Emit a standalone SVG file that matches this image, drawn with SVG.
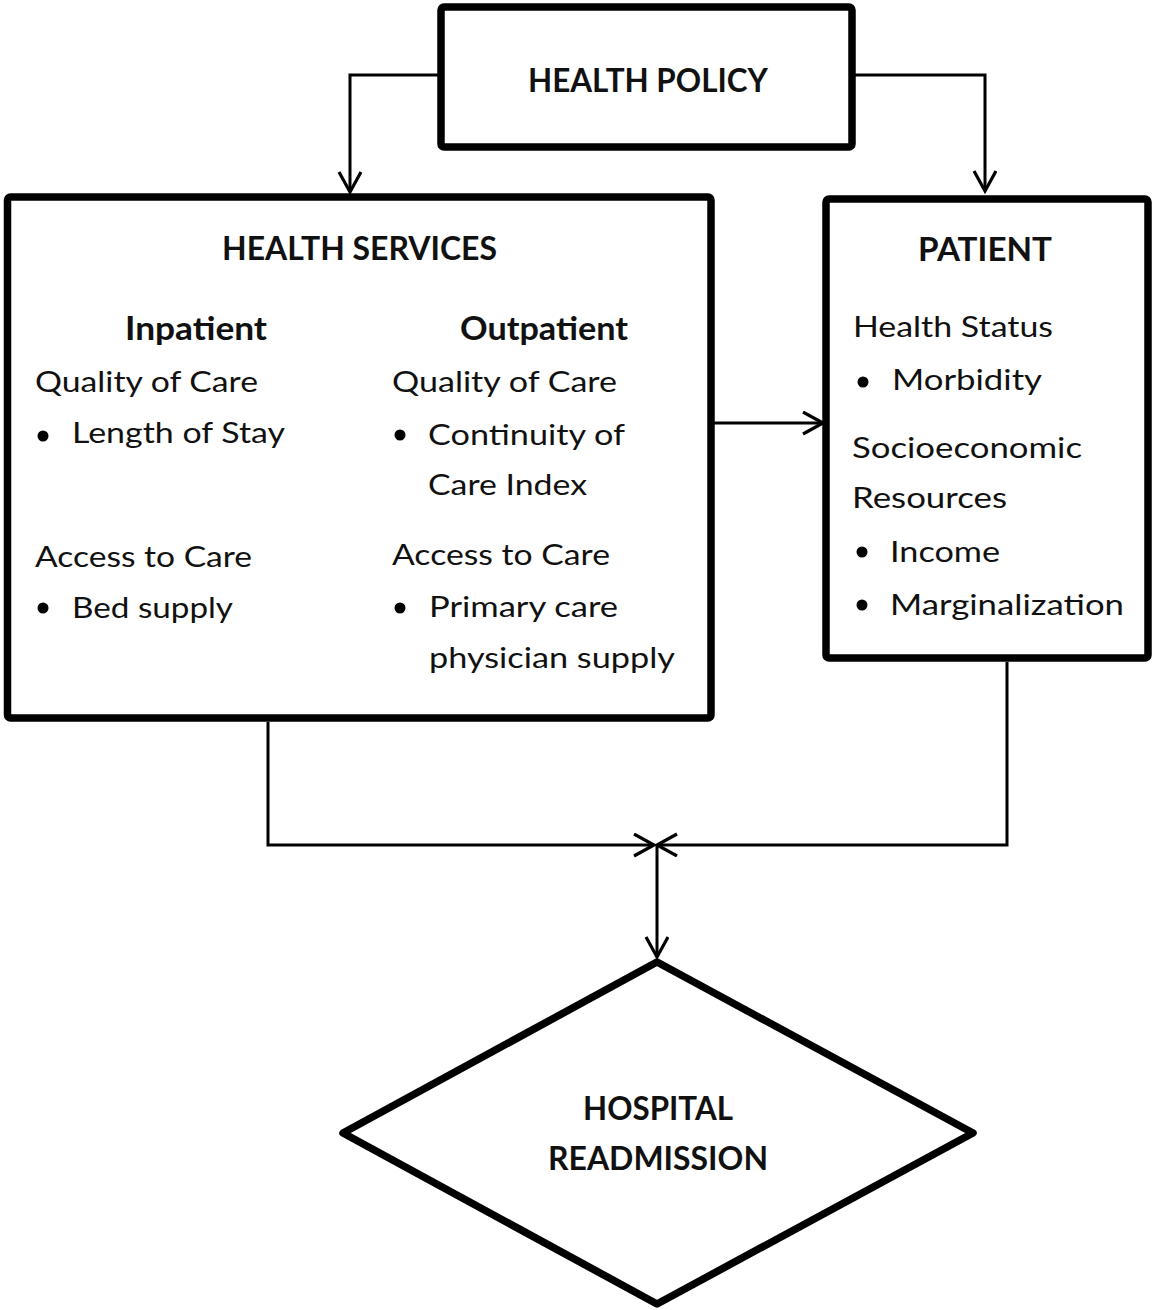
<svg xmlns="http://www.w3.org/2000/svg" width="1152" height="1310" viewBox="0 0 1152 1310">
<style>
.box{fill:#fff;stroke:#000;stroke-width:7.5;stroke-linejoin:round}
.con{fill:none;stroke:#000;stroke-width:3}
.t{font-family:Lato,"Open Sans","Liberation Sans",sans-serif;font-size:29px;fill:#111}
.b{font-family:Lato,"Open Sans","Liberation Sans",sans-serif;font-size:33px;font-weight:bold;fill:#111}
.dot{fill:#000}
</style>
<defs>
<marker id="arr" markerUnits="userSpaceOnUse" markerWidth="30" markerHeight="30" refX="21" refY="12" orient="auto" viewBox="0 0 30 30">
<path d="M1,1 L21,12 L1,23" fill="none" stroke="#000" stroke-width="3.2"/>
</marker>
</defs>
<rect width="1152" height="1310" fill="#fff"/>
<g id="connectors">
<path class="con" d="M441,75 H350 V192" marker-end="url(#arr)"/>
<path class="con" d="M852,75 H985 V191" marker-end="url(#arr)"/>
<path class="con" d="M711,423 H823" marker-end="url(#arr)"/>
<path class="con" d="M268,722 V845 H654" marker-end="url(#arr)"/>
<path class="con" d="M1007,662 V845 H657" marker-end="url(#arr)"/>
<path class="con" d="M657,845 V957" marker-end="url(#arr)"/>
</g>
<g id="health-policy">
<rect class="box" x="441" y="7" width="411" height="140" rx="3"/>
<text class="b" x="528" y="92" textLength="240" lengthAdjust="spacingAndGlyphs">HEALTH POLICY</text>
</g>
<g id="health-services">
<rect class="box" x="7.5" y="197" width="703.5" height="521" rx="3"/>
<text class="b" x="222" y="260" textLength="275" lengthAdjust="spacingAndGlyphs">HEALTH SERVICES</text>
<text class="b" x="125" y="340" textLength="142" lengthAdjust="spacingAndGlyphs">Inpatient</text>
<text class="b" x="460" y="340" textLength="168" lengthAdjust="spacingAndGlyphs">Outpatient</text>
<text class="t" x="35" y="392" textLength="223" lengthAdjust="spacingAndGlyphs">Quality of Care</text>
<circle class="dot" cx="43" cy="436" r="5.5"/>
<text class="t" x="72" y="443" textLength="213" lengthAdjust="spacingAndGlyphs">Length of Stay</text>
<text class="t" x="35" y="567" textLength="217" lengthAdjust="spacingAndGlyphs">Access to Care</text>
<circle class="dot" cx="43" cy="608" r="5.5"/>
<text class="t" x="72" y="618" textLength="161" lengthAdjust="spacingAndGlyphs">Bed supply</text>
<text class="t" x="392" y="392" textLength="225" lengthAdjust="spacingAndGlyphs">Quality of Care</text>
<circle class="dot" cx="400" cy="435" r="5.5"/>
<text class="t" x="428" y="445" textLength="197" lengthAdjust="spacingAndGlyphs">Continuity of</text>
<text class="t" x="428" y="495" textLength="159" lengthAdjust="spacingAndGlyphs">Care Index</text>
<text class="t" x="392" y="565" textLength="218" lengthAdjust="spacingAndGlyphs">Access to Care</text>
<circle class="dot" cx="400" cy="608" r="5.5"/>
<text class="t" x="429" y="617" textLength="189" lengthAdjust="spacingAndGlyphs">Primary care</text>
<text class="t" x="429" y="668" textLength="246" lengthAdjust="spacingAndGlyphs">physician supply</text>
</g>
<g id="patient">
<rect class="box" x="826" y="199" width="322" height="459" rx="3"/>
<text class="b" x="918" y="261" textLength="134" lengthAdjust="spacingAndGlyphs">PATIENT</text>
<text class="t" x="853" y="337" textLength="200" lengthAdjust="spacingAndGlyphs">Health Status</text>
<circle class="dot" cx="863" cy="382" r="5.5"/>
<text class="t" x="892" y="390" textLength="150" lengthAdjust="spacingAndGlyphs">Morbidity</text>
<text class="t" x="852" y="458" textLength="230" lengthAdjust="spacingAndGlyphs">Socioeconomic</text>
<text class="t" x="852" y="508" textLength="155" lengthAdjust="spacingAndGlyphs">Resources</text>
<circle class="dot" cx="862" cy="552" r="5.5"/>
<text class="t" x="890" y="562" textLength="110" lengthAdjust="spacingAndGlyphs">Income</text>
<circle class="dot" cx="862" cy="605" r="5.5"/>
<text class="t" x="890" y="615" textLength="234" lengthAdjust="spacingAndGlyphs">Marginalization</text>
</g>
<g id="hospital-readmission">
<polygon class="box" points="657,962 973,1133 657,1304 343,1133"/>
<text class="b" x="583" y="1120" textLength="150" lengthAdjust="spacingAndGlyphs">HOSPITAL</text>
<text class="b" x="548" y="1170" textLength="220" lengthAdjust="spacingAndGlyphs">READMISSION</text>
</g>
</svg>
